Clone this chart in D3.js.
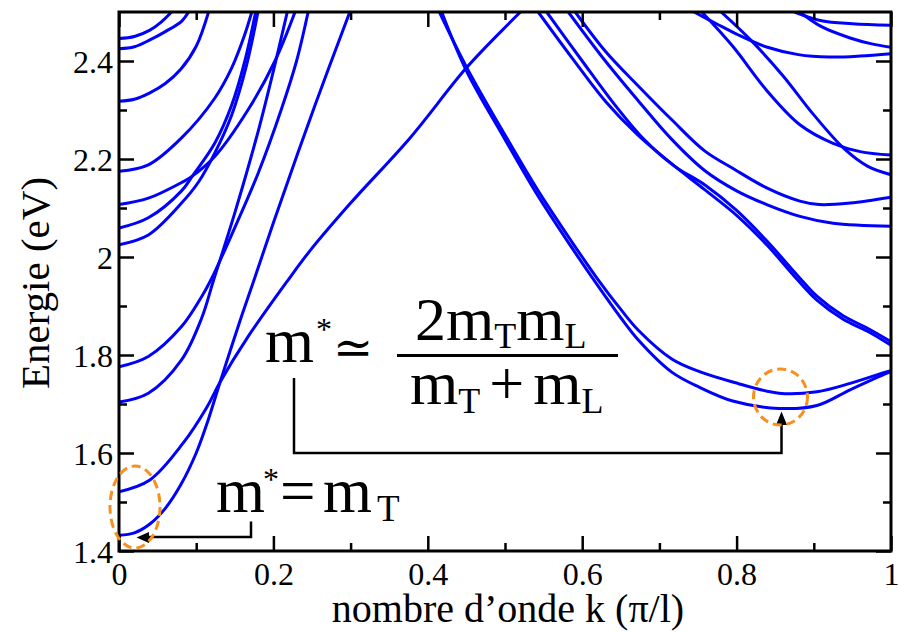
<!DOCTYPE html>
<html><head><meta charset="utf-8">
<script src="https://cdn.jsdelivr.net/npm/d3@7"></script>
<style>
body{margin:0;background:#fff}
</style>
</head><body>
<svg id="c" width="899" height="632"></svg>
<script>
// ---------- DATA ----------
const xTicks = [0, 0.2, 0.4, 0.6, 0.8, 1];
const xTickLabels = ["0", "0.2", "0.4", "0.6", "0.8", "1"];
const xMinorTicks = [0.1, 0.3, 0.5, 0.7, 0.9];
const yTicks = [1.4, 1.6, 1.8, 2.0, 2.2, 2.4];
const yTickLabels = ["1.4", "1.6", "1.8", "2", "2.2", "2.4"];
const yMinorTicks = [1.5, 1.7, 1.9, 2.1, 2.3];
const xTitle = "nombre d\u2019onde k (\u03c0/l)";
const yTitle = "Energie (eV)";

// bands starting at k = 0  ([k, E] pairs)
const bandG1 = [[0,2.446],[0.02,2.450],[0.04,2.463],[0.055,2.480],[0.068,2.500]];
const bandG2 = [[0,2.425],[0.02,2.429],[0.04,2.443],[0.06,2.460],[0.081,2.481],[0.09,2.500]];
const bandG3 = [[0,2.318],[0.02,2.322],[0.04,2.335],[0.06,2.354],[0.08,2.383],[0.1,2.430],[0.116,2.500]];
const bandB4 = [[0,2.175],[0.038,2.188],[0.081,2.243],[0.124,2.324],[0.146,2.386],[0.162,2.450],[0.172,2.500]];
const bandM1 = [[0,2.107],[0.038,2.120],[0.081,2.152],[0.095,2.165],[0.124,2.205],[0.167,2.300],[0.202,2.400],[0.228,2.500]];
const bandM2 = [[0,2.059],[0.038,2.080],[0.081,2.135],[0.095,2.165],[0.124,2.232],[0.146,2.310],[0.163,2.400],[0.177,2.500]];
const bandM3 = [[0,2.025],[0.038,2.045],[0.081,2.110],[0.103,2.153],[0.124,2.212],[0.146,2.290],[0.165,2.390],[0.180,2.500]];
const bandL4 = [[0,1.776],[0.038,1.797],[0.081,1.858],[0.107,1.919],[0.119,1.953],[0.15,2.060],[0.18,2.170],[0.21,2.300],[0.23,2.400],[0.245,2.500]];
const bandL3 = [[0,1.704],[0.038,1.722],[0.081,1.790],[0.107,1.875],[0.122,1.950],[0.15,2.090],[0.18,2.255],[0.2,2.380],[0.218,2.500]];
const bandL2 = [[0,1.521],[0.04,1.545],[0.083,1.620],[0.114,1.694],[0.131,1.745],[0.167,1.837],[0.219,1.953],[0.247,2.012],[0.3,2.110],[0.377,2.243],[0.45,2.386],[0.506,2.478],[0.52,2.500]];
const bandL1 = [[0,1.432],[0.02,1.437],[0.04,1.455],[0.06,1.487],[0.08,1.535],[0.1,1.600],[0.115,1.665],[0.131,1.745],[0.157,1.871],[0.174,1.949],[0.2,2.070],[0.254,2.310],[0.299,2.500]];

// bands reaching k = 1
const bandR1 = [[0.415,2.500],[0.45,2.388],[0.5,2.249],[0.543,2.135],[0.587,2.030],[0.62,1.955],[0.65,1.893],[0.673,1.850],[0.716,1.792],[0.752,1.766],[0.795,1.745],[0.855,1.722],[0.904,1.725],[0.947,1.742],[0.995,1.766],[1.0,1.768]];
const bandR2 = [[0.418,2.500],[0.45,2.380],[0.5,2.240],[0.543,2.124],[0.587,2.018],[0.62,1.942],[0.65,1.876],[0.673,1.830],[0.716,1.765],[0.752,1.734],[0.795,1.706],[0.855,1.691],[0.904,1.697],[0.947,1.729],[0.995,1.763],[1.0,1.766]];
const bandA  = [[0.543,2.500],[0.587,2.406],[0.630,2.318],[0.672,2.249],[0.716,2.190],[0.759,2.137],[0.80,2.085],[0.839,2.025],[0.878,1.955],[0.904,1.912],[0.938,1.873],[0.969,1.849],[1.0,1.820]];
const bandB  = [[0.554,2.500],[0.600,2.400],[0.640,2.315],[0.680,2.240],[0.720,2.185],[0.759,2.147],[0.80,2.095],[0.839,2.033],[0.878,1.964],[0.904,1.920],[0.938,1.880],[0.969,1.855],[1.0,1.827]];
const bandC  = [[0.582,2.500],[0.630,2.400],[0.672,2.320],[0.716,2.240],[0.759,2.176],[0.80,2.135],[0.839,2.107],[0.882,2.083],[0.925,2.069],[1.0,2.063]];
const bandD  = [[0.591,2.500],[0.630,2.420],[0.672,2.350],[0.716,2.280],[0.759,2.216],[0.796,2.180],[0.839,2.141],[0.882,2.114],[0.907,2.107],[0.947,2.110],[1.0,2.122]];
const bandU1 = [[0.755,2.500],[0.795,2.430],[0.839,2.340],[0.882,2.270],[0.925,2.232],[0.96,2.215],[1.0,2.208]];
const bandU2 = [[0.780,2.500],[0.820,2.440],[0.860,2.370],[0.900,2.290],[0.940,2.220],[0.970,2.185],[1.0,2.168]];
const bandT3 = [[0.745,2.500],[0.775,2.475],[0.800,2.455],[0.840,2.428],[0.880,2.413],[0.920,2.408],[0.960,2.410],[1.0,2.415]];
const bandT2 = [[0.882,2.500],[0.910,2.470],[0.947,2.447],[0.975,2.435],[1.0,2.428]];
const bandT1 = [[0.875,2.500],[0.910,2.482],[0.950,2.476],[1.0,2.473]];

const bands = [bandG1,bandG2,bandG3,bandB4,bandM1,bandM2,bandM3,bandL4,bandL3,bandL2,bandL1,
               bandR1,bandR2,bandA,bandB,bandC,bandD,bandU1,bandU2,bandT3,bandT2,bandT1];

// ---------- DRAW ----------
const svg = d3.select("#c");
const L = 119, R = 891, T = 12, B = 551;
const x = d3.scaleLinear().domain([0, 1]).range([L, R]);
const y = d3.scaleLinear().domain([1.4, 2.5]).range([B, T]);
const serif = '"Liberation Serif","Tinos","Noto Serif","DejaVu Serif","FreeSerif","Times New Roman","Liberation Sans"';

svg.append("defs").append("clipPath").attr("id", "clip")
  .append("rect").attr("x", L).attr("y", T).attr("width", R - L).attr("height", B - T);

const line = d3.line().x(d => x(d[0])).y(d => y(d[1])).curve(d3.curveCatmullRom.alpha(0.5));
svg.append("g").attr("clip-path", "url(#clip)")
  .selectAll("path").data(bands).join("path")
  .attr("d", line).attr("fill", "none").attr("stroke", "#0000ff")
  .attr("stroke-width", 3).attr("stroke-linejoin", "round");

// axes (ticks inside on all four sides)
function axisStyle(g) {
  g.attr("font-family", null);
  g.select(".domain").remove();
  g.selectAll(".tick line").attr("stroke", "#000").attr("stroke-width", 2.5);
}
const majLen = 15, minLen = 8;
svg.append("g").attr("transform", `translate(0,${B})`)
  .call(d3.axisBottom(x).tickValues(xTicks).tickFormat((d, i) => xTickLabels[i]).tickSizeInner(-majLen).tickSizeOuter(0))
  .call(axisStyle)
  .call(g => g.selectAll("text").attr("y", 34).attr("dy", 0).style("font-family", serif).style("font-size", "32px").attr("fill", "#000"));
svg.append("g").attr("transform", `translate(0,${B})`)
  .call(d3.axisBottom(x).tickValues(xMinorTicks).tickFormat("").tickSizeInner(-minLen).tickSizeOuter(0)).call(axisStyle);
svg.append("g").attr("transform", `translate(0,${T})`)
  .call(d3.axisTop(x).tickValues(xTicks).tickFormat("").tickSizeInner(-majLen).tickSizeOuter(0)).call(axisStyle);
svg.append("g").attr("transform", `translate(0,${T})`)
  .call(d3.axisTop(x).tickValues(xMinorTicks).tickFormat("").tickSizeInner(-minLen).tickSizeOuter(0)).call(axisStyle);
svg.append("g").attr("transform", `translate(${L},0)`)
  .call(d3.axisLeft(y).tickValues(yTicks).tickFormat((d, i) => yTickLabels[i]).tickSizeInner(-majLen).tickSizeOuter(0))
  .call(axisStyle)
  .call(g => g.selectAll("text").attr("x", -6).attr("dy", 11).style("font-family", serif).style("font-size", "32px").attr("fill", "#000"));
svg.append("g").attr("transform", `translate(${L},0)`)
  .call(d3.axisLeft(y).tickValues(yMinorTicks).tickFormat("").tickSizeInner(-minLen).tickSizeOuter(0)).call(axisStyle);
svg.append("g").attr("transform", `translate(${R},0)`)
  .call(d3.axisRight(y).tickValues(yTicks).tickFormat("").tickSizeInner(-majLen).tickSizeOuter(0)).call(axisStyle);
svg.append("g").attr("transform", `translate(${R},0)`)
  .call(d3.axisRight(y).tickValues(yMinorTicks).tickFormat("").tickSizeInner(-minLen).tickSizeOuter(0)).call(axisStyle);

svg.append("rect").attr("x", L).attr("y", T).attr("width", R - L).attr("height", B - T)
  .attr("fill", "none").attr("stroke", "#000").attr("stroke-width", 3);

// axis titles
svg.append("text").attr("x", (L + R) / 2 + 3).attr("y", 622).attr("text-anchor", "middle")
  .style("font-family", serif).style("font-size", "40px").text(xTitle);
svg.append("text").attr("transform", `translate(49,283) rotate(-90)`).attr("text-anchor", "middle")
  .style("font-family", serif).style("font-size", "41px").text(yTitle);

// ---------- annotations ----------
const ann = svg.append("g").attr("fill", "#000");
// m* ≃ 2 mT mL / (mT + mL)
const f1 = ann.append("text").attr("x", 265).attr("y", 362).style("font-size", "63px").style("font-family", serif);
f1.append("tspan").text("m");
f1.append("tspan").attr("x", 316).attr("y", 340).style("font-size", "32px").text("*");
f1.append("tspan").attr("x", 333).attr("y", 364).style("font-size", "48px")
  .style("font-family", '"DejaVu Serif","DejaVu Sans"').text("\u2243");
ann.append("line").attr("x1", 397).attr("x2", 618).attr("y1", 355.5).attr("y2", 355.5)
  .attr("stroke", "#000").attr("stroke-width", 3);
const num = ann.append("text").attr("x", 415).attr("y", 340).style("font-size", "62px").style("font-family", serif);
num.append("tspan").text("2m");
num.append("tspan").style("font-size", "36px").attr("dy", 8).text("T");
num.append("tspan").attr("dy", -8).text("m");
num.append("tspan").style("font-size", "36px").attr("dy", 8).text("L");
const den = ann.append("text").attr("x", 410).attr("y", 404).style("font-size", "62px").style("font-family", serif);
den.append("tspan").text("m");
den.append("tspan").style("font-size", "36px").attr("dy", 9).text("T");
den.append("tspan").attr("dy", -9).attr("dx", 9).text("+");
den.append("tspan").attr("dx", 9).text("m");
den.append("tspan").style("font-size", "36px").attr("dy", 9).text("L");
// m* = mT
const f2 = ann.append("text").attr("x", 216).attr("y", 512).style("font-size", "63px").style("font-family", serif);
f2.append("tspan").text("m");
f2.append("tspan").attr("x", 263).attr("y", 490).style("font-size", "32px").text("*");
f2.append("tspan").attr("x", 280).attr("y", 512).text("=");
f2.append("tspan").attr("x", 323).attr("y", 512).text("m");
f2.append("tspan").attr("x", 377).attr("y", 521).style("font-size", "37px").text("T");

// arrows
ann.append("path").attr("d", "M294,378 V453 H781.5 V424").attr("fill", "none")
  .attr("stroke", "#000").attr("stroke-width", 2.5);
ann.append("path").attr("d", "M781.5,411.5 L776,425 L787,425 Z").attr("fill", "#000");
ann.append("path").attr("d", "M251,521.5 V537 H148").attr("fill", "none")
  .attr("stroke", "#000").attr("stroke-width", 2.5);
ann.append("path").attr("d", "M136.5,537.5 L149,532 L149,543 Z").attr("fill", "#000");

// dashed orange ellipses
ann.append("ellipse").attr("cx", 135).attr("cy", 507).attr("rx", 25).attr("ry", 41)
  .attr("fill", "none").attr("stroke", "#f7901e").attr("stroke-width", 3).attr("stroke-dasharray", "9,5");
ann.append("ellipse").attr("cx", 780.5).attr("cy", 397).attr("rx", 27).attr("ry", 28)
  .attr("fill", "none").attr("stroke", "#f7901e").attr("stroke-width", 3).attr("stroke-dasharray", "9,5");
</script>
</body></html>
